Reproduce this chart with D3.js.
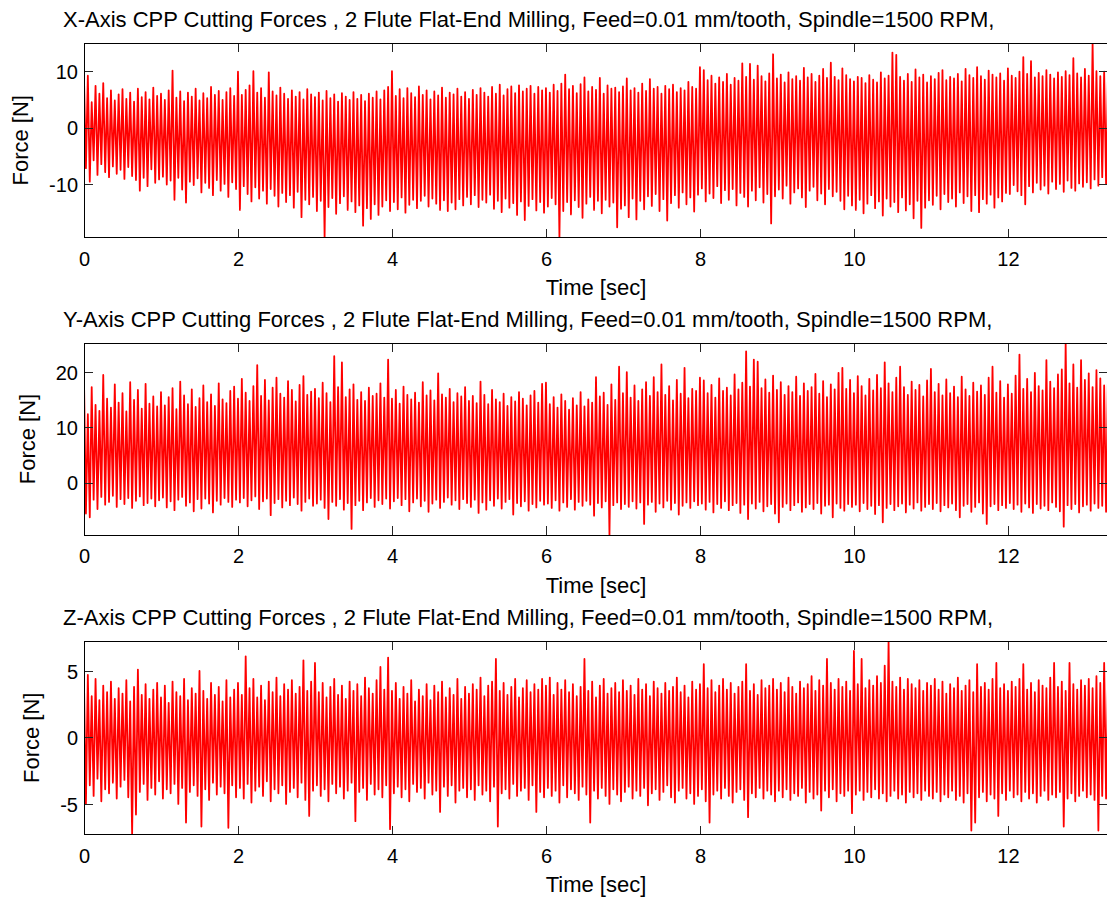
<!DOCTYPE html>
<html>
<head>
<meta charset="utf-8">
<script src="https://cdn.jsdelivr.net/npm/d3@7"></script>
<style>
body { margin: 0; background: #fff; }
svg text { font-family: "Liberation Sans", Arial, Helvetica, sans-serif; fill: #000; }
</style>
</head>
<body>
<div id="chart"></div>
<script>
// each step of the traces holds one peak (at t) and one trough (at t + step/2), in sec
const step = 0.05
const timeEnd = 13.3
const timeTicks = [0, 2, 4, 6, 8, 10, 12]

const titles = [
	"X-Axis CPP Cutting Forces , 2 Flute Flat-End Milling, Feed=0.01 mm/tooth, Spindle=1500 RPM,",
	"Y-Axis CPP Cutting Forces , 2 Flute Flat-End Milling, Feed=0.01 mm/tooth, Spindle=1500 RPM,",
	"Z-Axis CPP Cutting Forces , 2 Flute Flat-End Milling, Feed=0.01 mm/tooth, Spindle=1500 RPM,"
]
const forceTicks = [[-10, 0, 10], [0, 10, 20], [-5, 0, 5]]

// X force [N], peaks and troughs, 20 per second
const xPeaks = [
	8.6, 9.2, 4.5, 7.4, 6.0, 7.9, 5.2, 6.6, 4.8, 5.9, 6.8, 5.1, 6.2, 4.6, 6.9, 5.4, 6.3, 5.0, 7.1, 5.6,
	6.0, 4.9, 6.6, 10.1, 5.3, 6.4, 4.7, 6.2, 5.5, 6.9, 4.8, 6.1, 5.2, 7.2, 5.8, 6.5, 4.9, 6.3, 7.0, 5.6,
	9.9, 5.8, 6.7, 7.5, 10.0, 6.2, 7.0, 5.3, 9.8, 6.4, 5.7, 7.1, 6.0, 5.1, 6.6, 5.5, 6.3, 5.0, 6.8, 5.9,
	5.4, 6.2, 4.8, 6.5, 5.2, 5.9, 4.6, 6.1, 5.5, 4.9, 6.3, 5.1, 5.8, 4.7, 6.0, 5.3, 6.4, 5.0, 6.6, 7.2,
	10.0, 5.6, 6.8, 5.2, 7.0, 6.1, 5.4, 7.3, 5.8, 6.6, 5.0, 6.4, 5.7, 7.1, 5.3, 6.2, 5.9, 6.9, 5.5, 6.3,
	5.1, 6.7, 5.8, 7.0, 6.2, 5.5, 7.2, 6.0, 7.6, 5.7, 6.8, 7.3, 6.1, 7.5, 6.4, 6.9, 7.4, 6.0, 7.2, 6.6,
	7.0, 6.2, 7.6, 6.5, 7.8, 9.4, 6.8, 7.4, 6.1, 7.7, 8.9, 6.4, 7.2, 6.7, 8.8, 6.0, 7.5, 6.9, 7.1, 6.3,
	7.3, 8.7, 6.6, 7.0, 6.2, 7.8, 6.5, 8.6, 6.9, 7.2, 6.0, 7.4, 6.8, 7.6, 6.3, 7.0, 6.6, 8.1, 7.2, 6.9,
	10.7, 10.2, 8.4, 9.2, 7.8, 8.9, 8.1, 9.5, 7.6, 8.8, 8.3, 11.4, 9.0, 11.3, 8.5, 11.0, 9.1, 8.2, 9.6, 13.0,
	8.7, 9.4, 8.0, 9.8, 8.6, 9.1, 8.3, 10.6, 8.9, 9.5, 8.1, 9.2, 10.4, 8.8, 11.5, 9.0, 8.4, 10.5, 9.3, 8.6,
	8.2, 9.0, 8.8, 7.9, 9.3, 8.5, 8.0, 9.8, 8.7, 9.2, 13.3, 12.9, 9.0, 8.3, 9.5, 8.1, 10.3, 8.9, 9.4, 8.0,
	9.1, 8.6, 9.7, 10.2, 8.4, 9.0, 8.7, 9.5, 8.2, 10.4, 9.3, 8.8, 10.7, 9.1, 8.5, 10.1, 9.4, 8.9, 9.6, 8.3,
	10.5, 9.2, 8.8, 9.9, 12.5, 9.5, 11.8, 8.9, 9.7, 9.1, 10.2, 9.4, 8.7, 9.8, 9.0, 10.0, 9.3, 12.3, 9.6, 8.9,
	10.4, 9.2, 15.0, 10.0, 9.1, 9.9, 9.4
]
const xTroughs = [
	-7.2, -9.6, -5.8, -8.4, -6.5, -7.9, -8.8, -6.9, -8.2, -7.5, -9.1, -7.0, -8.6, -9.3, -11.2, -8.9, -10.4, -7.4, -9.8, -9.2,
	-8.7, -10.1, -9.4, -12.8, -8.9, -11.0, -13.3, -9.6, -10.2, -9.0, -11.5, -9.8, -10.7, -12.0, -9.3, -11.2, -10.0, -12.3, -9.7, -10.9,
	-14.6, -10.4, -11.8, -13.1, -10.6, -12.6, -11.2, -13.5, -10.9, -12.1, -14.0, -11.6, -13.2, -12.0, -14.2, -11.4, -15.9, -12.8, -13.6, -12.3,
	-14.8, -13.0, -19.5, -14.1, -12.5, -15.3, -13.4, -12.2, -14.6, -13.1, -15.0, -13.8, -17.4, -14.3, -16.2, -13.6, -15.5, -14.0, -12.9, -14.8,
	-13.2, -14.5, -12.4, -15.1, -13.7, -12.8, -14.3, -13.0, -12.1, -14.0, -12.6, -13.5, -14.6, -12.9, -14.8, -13.3, -14.5, -12.7, -13.8, -12.3,
	-13.6, -12.0, -14.1, -12.8, -13.3, -11.9, -14.4, -13.0, -15.0, -12.6, -14.2, -13.4, -15.5, -13.1, -16.4, -13.9, -12.7, -14.7, -13.2, -15.1,
	-14.0, -12.5, -13.6, -19.5, -14.8, -13.2, -15.4, -12.9, -14.1, -16.0, -13.5, -12.3, -14.6, -13.0, -15.2, -12.8, -14.0, -13.3, -17.7, -14.4,
	-13.8, -15.9, -12.6, -16.3, -13.0, -14.5, -12.2, -13.9, -11.8, -14.8, -12.7, -16.5, -13.4, -12.0, -14.2, -11.5, -13.6, -12.4, -14.9, -11.9,
	-10.8, -13.1, -11.7, -12.5, -10.4, -13.4, -11.1, -12.8, -10.9, -13.8, -11.6, -12.3, -14.0, -11.2, -12.9, -10.6, -13.3, -11.8, -17.0, -12.2,
	-11.0, -12.6, -10.3, -13.5, -11.5, -10.8, -12.4, -14.1, -11.2, -10.5, -12.9, -11.7, -13.6, -10.9, -12.2, -11.4, -13.0, -14.5, -12.1, -13.8,
	-14.6, -12.8, -15.2, -13.5, -12.0, -14.3, -13.1, -15.6, -12.6, -14.0, -13.2, -15.0, -12.4, -14.7, -13.6, -16.1, -13.0, -17.8, -14.2, -12.9,
	-13.7, -12.1, -14.5, -11.8, -13.2, -12.6, -14.0, -11.5, -13.4, -12.2, -14.8, -12.0, -15.0, -12.7, -13.5, -11.9, -14.2, -12.4, -13.1, -11.6,
	-11.8, -10.2, -11.3, -12.0, -13.6, -10.4, -11.5, -9.8, -11.0, -10.3, -11.7, -9.6, -10.9, -10.0, -11.4, -9.4, -10.7, -11.2, -9.9, -10.5,
	-9.7, -10.8, -9.2, -10.3, -8.8, -10.0, -9.5
]

// Y force [N]
const yPeaks = [
	18.6, 12.4, 17.3, 14.1, 13.0, 19.5, 15.2, 13.6, 17.8, 14.5, 16.2, 12.9, 18.2, 15.0, 16.8, 13.4, 17.9, 14.3, 15.6, 13.8,
	16.4, 14.0, 15.5, 17.1, 13.3, 18.3, 15.8, 14.2, 16.9, 13.7, 15.3, 17.6, 14.6, 16.0, 13.9, 18.0, 15.1, 14.4, 16.6, 17.4,
	15.2, 18.8, 16.3, 14.8, 17.5, 21.3, 15.7, 18.6, 14.9, 17.2, 19.0, 16.1, 15.4, 18.4, 16.8, 14.7, 17.7, 19.3, 15.9, 16.5,
	17.0, 15.3, 18.1, 16.2, 14.6, 22.9, 17.3, 21.8, 15.5, 16.9, 17.8, 15.0, 16.4, 14.8, 17.2, 15.7, 16.1, 18.0, 15.4, 22.3,
	15.2, 16.8, 14.3, 17.4, 15.9, 15.1, 16.3, 14.5, 18.2, 15.8, 16.7, 14.9, 19.8, 16.0, 15.4, 17.0, 14.6, 16.2, 15.6, 17.3,
	14.8, 15.7, 14.4, 18.3, 15.9, 14.2, 16.8, 15.1, 14.6, 16.1, 13.9, 15.5, 14.7, 16.4, 15.2, 14.0, 15.8, 16.6, 14.5, 17.9,
	18.1, 14.2, 15.5, 13.6, 16.0, 14.8, 13.2, 15.3, 14.0, 16.4, 13.8, 15.1, 14.5, 19.1, 15.6, 16.3, 14.1, 17.8, 15.0, 21.0,
	16.2, 20.0, 15.4, 17.6, 14.8, 16.9, 18.2, 15.7, 19.1, 16.4, 21.4, 15.9, 17.5, 14.9, 18.6, 16.1, 20.8, 15.3, 17.0, 16.6,
	19.0, 18.5, 16.2, 17.7, 15.4, 18.9, 16.6, 17.2, 15.8, 19.6, 16.9, 18.1, 23.8, 17.4, 22.3, 21.9, 17.1, 18.7, 16.3, 19.4,
	16.8, 18.2, 15.9, 17.5, 16.4, 19.2, 15.7, 18.0, 16.6, 17.3, 19.7, 16.1, 18.4, 15.5, 17.8, 16.9, 19.9, 20.8, 17.0, 18.6,
	16.2, 19.3, 17.5, 15.8, 18.8, 16.7, 19.5, 17.1, 21.8, 18.0, 16.4, 19.0, 21.0, 17.3, 15.9, 18.3, 16.8, 17.7, 15.6, 18.5,
	20.6, 16.4, 17.9, 15.8, 18.7, 16.2, 17.4, 15.5, 19.2, 16.9, 15.7, 18.1, 16.5, 17.6, 15.9, 19.0, 21.0, 16.3, 18.4, 15.4,
	17.8, 16.1, 19.4, 23.2, 17.0, 18.8, 16.4, 19.9, 17.5, 16.7, 22.2, 18.3, 17.1, 19.6, 20.5, 25.3, 18.0, 21.4, 17.2, 22.2,
	18.6, 19.8, 17.3, 20.4, 18.9, 17.6, 19.5
]
const yTroughs = [
	-5.6, -6.3, -3.1, -4.8, -2.6, -4.0, -3.5, -2.4, -4.4, -3.0, -3.9, -2.8, -4.6, -3.3, -2.5, -4.1, -3.7, -2.9, -4.3, -3.2,
	-2.7, -4.5, -3.4, -5.0, -3.1, -2.6, -4.2, -3.6, -5.2, -3.0, -4.7, -2.9, -3.8, -5.4, -3.3, -4.0, -2.8, -3.5, -4.4, -3.1,
	-3.6, -2.8, -4.3, -3.2, -2.5, -4.8, -3.4, -2.9, -5.9, -3.7, -3.0, -4.5, -3.3, -4.1, -2.7, -3.9, -5.1, -3.5, -2.9, -4.2,
	-3.8, -3.1, -4.6, -6.6, -3.5, -4.2, -3.0, -4.9, -3.7, -8.4, -4.1, -3.3, -5.0, -3.6, -2.8, -4.4, -3.2, -3.9, -2.9, -4.7,
	-3.4, -2.8, -4.1, -3.0, -5.2, -3.6, -2.9, -4.3, -3.3, -5.3, -3.8, -3.1, -4.6, -3.5, -2.7, -4.0, -3.2, -4.8, -3.0, -3.7,
	-4.4, -3.1, -5.5, -3.6, -4.9, -3.2, -4.2, -2.9, -4.7, -3.5, -3.0, -5.8, -3.7, -4.3, -3.4, -5.1, -3.9, -4.5, -3.3, -4.0,
	-3.8, -4.6, -3.2, -5.1, -3.6, -4.4, -3.0, -4.9, -3.5, -4.2, -3.3, -4.0, -6.0, -3.7, -4.5, -3.4, -9.5, -4.1, -3.6, -4.8,
	-3.9, -4.4, -3.4, -4.7, -3.6, -7.5, -4.0, -3.5, -5.3, -3.8, -4.5, -3.3, -4.9, -3.7, -5.8, -4.2, -3.6, -4.6, -3.4, -4.1,
	-3.8, -4.9, -3.5, -5.4, -3.9, -4.6, -3.4, -5.0, -4.1, -3.7, -5.5, -4.0, -6.6, -3.8, -4.7, -3.5, -5.2, -4.3, -3.9, -5.6,
	-7.2, -4.4, -3.8, -5.0, -4.1, -3.6, -5.3, -4.5, -3.9, -4.8, -3.7, -5.6, -4.2, -4.0, -6.3, -3.8, -4.6, -5.1, -3.9, -4.4,
	-4.0, -5.2, -3.7, -4.8, -4.2, -5.7, -4.1, -7.2, -4.6, -3.9, -5.0, -4.3, -3.8, -5.4, -4.0, -4.7, -3.6, -5.1, -4.4, -3.9,
	-4.8, -3.7, -5.2, -4.1, -4.5, -3.8, -5.0, -6.3, -4.2, -3.9, -5.3, -4.4, -3.6, -5.6, -7.5, -4.3, -3.9, -5.0, -4.1, -4.6,
	-3.7, -4.8, -4.0, -5.3, -3.8, -4.5, -5.5, -3.9, -4.7, -4.2, -5.0, -3.6, -4.4, -5.2, -8.0, -4.1, -4.8, -3.9, -5.4, -4.3,
	-4.0, -5.1, -3.8, -4.6, -4.2, -5.3, -3.9
]

// Z force [N]
const zPeaks = [
	4.0, 4.7, 3.1, 4.4, 2.8, 3.9, 3.4, 4.2, 2.9, 3.7, 3.3, 4.3, 2.7, 3.8, 5.1, 3.2, 4.0, 2.9, 3.6, 4.1,
	3.0, 3.9, 2.6, 4.2, 3.4, 3.1, 4.4, 2.8, 3.7, 3.3, 5.0, 3.5, 2.9, 4.1, 3.2, 3.8, 2.7, 4.3, 3.0, 3.6,
	4.1, 3.2, 6.1, 3.7, 4.4, 3.0, 3.9, 2.8, 4.2, 3.4, 4.5, 3.1, 4.0, 3.6, 4.3, 3.3, 3.8, 5.8, 3.5, 4.2,
	5.6, 3.4, 4.1, 3.0, 3.8, 4.4, 3.2, 3.9, 2.9, 4.2, 3.5, 4.0, 3.1, 4.5, 3.7, 3.3, 4.3, 5.3, 3.6, 6.0,
	3.5, 4.1, 2.9, 3.8, 3.3, 4.3, 2.7, 3.6, 3.1, 4.0, 2.8, 3.9, 3.4, 4.2, 3.0, 3.7, 3.2, 4.4, 2.9, 3.8,
	3.3, 4.0, 3.6, 4.5, 3.1, 3.9, 4.2, 5.9, 3.5, 4.1, 3.2, 3.8, 4.4, 3.0, 3.7, 4.3, 3.4, 4.0, 3.6, 4.4,
	3.9, 4.5, 3.2, 4.1, 3.6, 4.3, 3.4, 4.0, 3.1, 3.8, 5.9, 3.5, 4.2, 3.0, 3.9, 4.4, 3.3, 3.7, 4.1, 3.4,
	4.3, 3.5, 3.9, 3.2, 4.4, 3.6, 4.0, 3.1, 4.2, 3.7, 3.3, 4.1, 3.5, 3.8, 4.5, 3.4, 3.9, 3.0, 4.2, 3.6,
	4.0, 5.5, 3.7, 4.3, 3.4, 3.9, 4.4, 3.6, 4.1, 3.3, 3.8, 4.2, 5.5, 3.5, 4.0, 3.2, 4.3, 3.7, 3.9, 4.4,
	3.6, 4.1, 3.4, 4.5, 3.8, 3.3, 4.2, 3.7, 4.0, 4.6, 3.5, 4.3, 3.9, 5.9, 4.1, 3.6, 4.4, 3.8, 4.2, 3.5,
	6.5, 4.0, 5.9, 3.7, 4.3, 3.9, 4.6, 4.1, 5.4, 7.25, 4.2, 3.8, 4.5, 3.6, 4.4, 4.0, 3.7, 4.3, 3.5, 4.1,
	3.9, 4.4, 3.6, 4.2, 3.3, 4.0, 3.7, 4.5, 3.5, 3.9, 4.3, 3.4, 5.5, 3.8, 4.1, 3.6, 4.4, 5.6, 3.7, 4.0,
	3.5, 4.2, 3.8, 4.4, 5.5, 3.6, 4.1, 3.4, 4.3, 3.9, 3.7, 4.5, 5.6, 3.8, 4.2, 3.5, 5.6, 4.0, 3.6, 4.3,
	3.9, 4.4, 3.7, 4.6, 4.1, 5.6, 4.2
]
const zTroughs = [
	-5.0, -3.6, -4.4, -3.1, -4.8, -3.9, -4.2, -3.4, -4.6, -3.7, -3.2, -4.5, -7.3, -5.8, -4.1, -3.5, -4.7, -3.8, -4.3, -3.3,
	-4.6, -3.9, -4.2, -3.5, -5.0, -3.8, -6.4, -4.1, -3.6, -4.4, -6.7, -3.9, -4.7, -3.4, -4.3, -3.7, -4.2, -6.8, -3.6, -4.5,
	-3.8, -4.6, -3.5, -4.9, -4.0, -3.7, -4.4, -3.3, -4.8, -3.9, -4.2, -3.6, -5.0, -4.1, -3.8, -4.5, -3.4, -4.7, -5.9, -4.0,
	-3.6, -4.4, -3.9, -4.8, -3.5, -4.2, -3.7, -4.6, -4.0, -3.4, -6.3, -4.1, -3.8, -4.7, -3.5, -4.3, -3.9, -4.5, -3.6, -6.9,
	-4.2, -3.7, -4.5, -3.9, -4.8, -3.5, -4.1, -3.8, -4.6, -3.4, -4.3, -4.0, -5.6, -3.7, -4.4, -3.6, -4.9, -4.0, -3.8, -4.5,
	-3.9, -4.7, -3.6, -4.3, -4.0, -4.8, -3.7, -6.7, -4.2, -3.9, -4.6, -3.5, -4.4, -4.0, -3.8, -4.7, -3.6, -5.6, -4.1, -4.5,
	-3.8, -4.4, -4.0, -4.9, -3.6, -4.5, -3.9, -4.2, -4.7, -3.7, -4.3, -6.4, -4.0, -4.6, -3.8, -4.4, -5.0, -3.9, -4.3, -4.8,
	-4.1, -3.7, -4.6, -4.0, -4.4, -3.8, -5.1, -4.2, -3.9, -4.7, -4.1, -3.6, -4.5, -4.9, -4.0, -3.8, -4.6, -4.2, -5.0, -4.4,
	-3.9, -4.8, -6.4, -4.3, -4.0, -4.6, -3.8, -4.4, -4.9, -4.1, -3.9, -4.7, -6.0, -4.2, -4.5, -3.8, -4.6, -4.0, -4.3, -4.8,
	-4.0, -4.5, -3.9, -4.7, -4.2, -4.4, -3.8, -4.9, -4.1, -4.6, -4.3, -5.5, -4.0, -4.5, -3.9, -4.8, -4.2, -4.4, -4.0, -5.7,
	-4.3, -4.0, -4.7, -4.1, -4.5, -3.9, -4.6, -4.2, -4.8, -4.4, -4.0, -4.6, -4.3, -4.9, -4.1, -4.5, -4.2, -4.7, -4.0, -4.4,
	-4.6, -4.1, -4.8, -4.3, -4.5, -4.0, -4.7, -4.4, -4.9, -4.2, -7.0, -6.4, -4.5, -4.1, -4.8, -4.3, -4.6, -5.9, -4.2, -4.7,
	-4.0, -4.5, -4.3, -4.8, -4.1, -4.6, -4.2, -4.9, -4.4, -4.0, -4.7, -4.3, -4.5, -4.1, -6.7, -4.6, -4.2, -4.8, -4.4, -4.0,
	-4.5, -4.3, -4.7, -7.0, -4.4, -4.6, -4.2
]

const peaks = [xPeaks, yPeaks, zPeaks]
const troughs = [xTroughs, yTroughs, zTroughs]

const W = 1107, H = 897
const left = 84, right = 1108
const tops = [43, 343, 641], heights = [194.5, 192, 193.5]
const tickLen = 9

var svg = d3.select("#chart")
			.append("svg")
			.attr("width", W)
			.attr("height", H)

svg.append("rect").attr("width", W).attr("height", H).attr("fill", "#fff")

var defs = svg.append("defs")

var xScale = d3.scaleLinear().domain([0, timeEnd]).range([left, right])

function drawPanel(k) {
	var hi = peaks[k], lo = troughs[k]
	var top = tops[k], h = heights[k]

	// axis tight, like the original
	var yScale = d3.scaleLinear().domain(d3.extent(hi.concat(lo))).range([top + h, top])

	defs.append("clipPath")
		.attr("id", "clip" + k)
	   .append("rect")
		.attr("x", left)
		.attr("y", top)
		.attr("width", right - left)
		.attr("height", h)

	// zig-zag trace: peak, trough, peak ...
	var pts = []
	for (var i = 0; i < hi.length; i++) {
		pts.push([i * step, hi[i]])
		pts.push([i * step + step / 2, lo[i]])
	}
	var line = d3.line()
				 .x(function(d){ return xScale(d[0]); })
				 .y(function(d){ return yScale(d[1]); })

	svg.append("path")
	   .datum(pts)
	   .attr("clip-path", "url(#clip" + k + ")")
	   .attr("d", line)
	   .attr("fill", "none")
	   .attr("stroke", "#ff0000")
	   .attr("stroke-width", 1.8)
	   .attr("stroke-linejoin", "round")

	// bottom axis with labels, top axis ticks only
	var gX = svg.append("g")
				.attr("transform", "translate(0," + (top + h) + ")")
				.call(d3.axisBottom(xScale).tickValues(timeTicks).tickSizeInner(-tickLen).tickSizeOuter(0)
						.tickFormat(function(d){ return String(d); }))
	gX.selectAll("text").attr("y", 28).attr("dy", null)

	var gXt = svg.append("g")
				 .attr("transform", "translate(0," + top + ")")
				 .call(d3.axisTop(xScale).tickValues(timeTicks).tickSizeInner(-tickLen).tickSizeOuter(0).tickFormat(""))

	var gY = svg.append("g")
				.attr("transform", "translate(" + left + ",0)")
				.call(d3.axisLeft(yScale).tickValues(forceTicks[k]).tickSizeInner(-tickLen).tickSizeOuter(0)
						.tickFormat(function(d){ return String(d); }))
	gY.selectAll("text").attr("x", -6).attr("dy", "0.36em")

	var gYr = svg.append("g")
				 .attr("transform", "translate(" + right + ",0)")
				 .call(d3.axisRight(yScale).tickValues(forceTicks[k]).tickSizeInner(-tickLen).tickSizeOuter(0).tickFormat(""))

	;[gX, gXt, gY, gYr].forEach(function(g){
		g.select(".domain").remove()
		g.attr("font-size", 20).attr("font-family", null)
		g.selectAll(".tick line").attr("stroke", "#262626").attr("shape-rendering", "crispEdges")
	})

	// box
	svg.append("rect")
	   .attr("x", left)
	   .attr("y", top)
	   .attr("width", right - left)
	   .attr("height", h)
	   .attr("fill", "none")
	   .attr("stroke", "#000")
	   .attr("shape-rendering", "crispEdges")

	svg.append("text")
	   .attr("x", 63)
	   .attr("y", top - 16.5)
	   .attr("font-size", 22)
	   .text(titles[k])

	svg.append("text")
	   .attr("x", (left + right) / 2)
	   .attr("y", top + h + 57.5)
	   .attr("font-size", 22)
	   .attr("text-anchor", "middle")
	   .text("Time [sec]")

	var labelLeft = left + gY.node().getBBox().x
	var lx = labelLeft - 21, ly = top + h / 2
	svg.append("text")
	   .attr("transform", "translate(" + lx + "," + ly + ") rotate(-90)")
	   .attr("font-size", 22)
	   .attr("text-anchor", "middle")
	   .text("Force [N]")
}

for (var k = 0; k < 3; k++) drawPanel(k)
</script>
</body>
</html>
